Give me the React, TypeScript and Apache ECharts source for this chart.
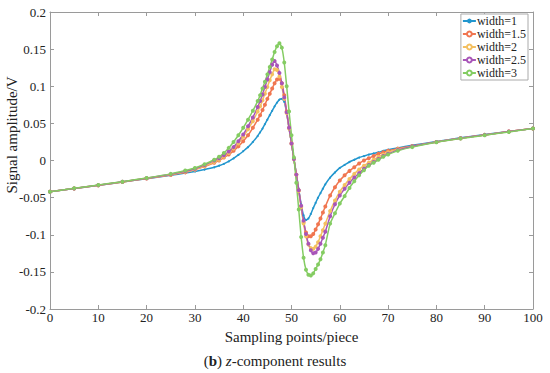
import React, { useEffect, useRef } from "react";
import * as echarts from "echarts";

const xs = [0, 5, 10, 15, 20, 25, 28, 30, 32, 34, 35, 36, 37, 38, 39, 40, 41, 42, 43, 43.5, 44, 44.5, 45, 45.5, 46, 46.5, 47, 47.5, 48, 48.5, 49, 49.5, 50, 50.5, 51, 51.5, 52, 52.5, 53, 53.5, 54, 54.5, 55, 55.5, 56, 56.5, 57, 58, 59, 60, 61, 62, 63, 64, 65, 66, 67, 68, 69, 70, 72, 75, 80, 85, 90, 95, 100];

const seriesNames = ["width=1", "width=1.5", "width=2", "width=2.5", "width=3"];

const w1 = [-0.042, -0.0378, -0.0334, -0.029, -0.0245, -0.02, -0.017, -0.0148, -0.0122, -0.0092, -0.007, -0.0045, -0.0012, 0.0028, 0.0075, 0.0125, 0.018, 0.025, 0.033, 0.038, 0.043, 0.049, 0.055, 0.061, 0.067, 0.073, 0.078, 0.082, 0.083, 0.079, 0.064, 0.043, 0.023, 0.002, -0.018, -0.039, -0.059, -0.074, -0.08, -0.078, -0.072, -0.064, -0.057, -0.05, -0.044, -0.038, -0.032, -0.023, -0.016, -0.01, -0.006, -0.002, 0.001, 0.004, 0.006, 0.008, 0.0095, 0.011, 0.013, 0.0145, 0.017, 0.0205, 0.0255, 0.0305, 0.035, 0.039, 0.043];

const w15 = [-0.042, -0.0378, -0.0335, -0.029, -0.0243, -0.0195, -0.016, -0.012, -0.008, -0.003, 0.0, 0.004, 0.008, 0.013, 0.019, 0.026, 0.034, 0.044, 0.055, 0.061, 0.068, 0.075, 0.083, 0.09, 0.097, 0.104, 0.109, 0.11, 0.104, 0.088, 0.066, 0.044, 0.023, 0.002, -0.019, -0.04, -0.062, -0.083, -0.097, -0.102, -0.102, -0.099, -0.093, -0.086, -0.078, -0.07, -0.062, -0.047, -0.036, -0.027, -0.02, -0.014, -0.009, -0.004, 0.0, 0.003, 0.006, 0.009, 0.011, 0.013, 0.016, 0.0195, 0.025, 0.030, 0.0345, 0.039, 0.043];

const w2 = [-0.042, -0.0377, -0.0333, -0.0288, -0.024, -0.019, -0.0152, -0.012, -0.0075, -0.002, 0.001, 0.005, 0.01, 0.016, 0.023, 0.032, 0.042, 0.053, 0.066, 0.073, 0.081, 0.09, 0.099, 0.108, 0.116, 0.123, 0.122, 0.113, 0.099, 0.083, 0.064, 0.043, 0.023, 0.002, -0.019, -0.041, -0.063, -0.085, -0.102, -0.113, -0.118, -0.119, -0.116, -0.11, -0.102, -0.094, -0.085, -0.068, -0.054, -0.042, -0.033, -0.025, -0.018, -0.012, -0.007, -0.003, 0.001, 0.005, 0.008, 0.011, 0.015, 0.019, 0.025, 0.030, 0.0345, 0.039, 0.043];

const w25 = [-0.042, -0.0377, -0.0332, -0.0287, -0.0238, -0.0185, -0.0145, -0.011, -0.006, 0.0, 0.003, 0.007, 0.012, 0.018, 0.026, 0.035, 0.046, 0.058, 0.072, 0.08, 0.089, 0.099, 0.109, 0.119, 0.129, 0.134, 0.128, 0.118, 0.104, 0.085, 0.065, 0.044, 0.023, 0.002, -0.019, -0.04, -0.061, -0.081, -0.099, -0.112, -0.121, -0.125, -0.124, -0.119, -0.112, -0.104, -0.096, -0.075, -0.059, -0.047, -0.038, -0.03, -0.023, -0.017, -0.011, -0.006, -0.002, 0.002, 0.006, 0.009, 0.014, 0.019, 0.025, 0.030, 0.0345, 0.039, 0.043];

const w3 = [-0.042, -0.0375, -0.033, -0.0285, -0.0235, -0.018, -0.0135, -0.01, -0.005, 0.001, 0.005, 0.01, 0.017, 0.025, 0.034, 0.044, 0.055, 0.067, 0.08, 0.088, 0.097, 0.106, 0.116, 0.126, 0.136, 0.146, 0.154, 0.158, 0.152, 0.132, 0.1, 0.066, 0.034, 0.004, -0.03, -0.066, -0.103, -0.131, -0.147, -0.154, -0.155, -0.152, -0.146, -0.14, -0.133, -0.124, -0.114, -0.085, -0.071, -0.058, -0.048, -0.037, -0.028, -0.02, -0.013, -0.007, -0.003, 0.001, 0.005, 0.008, 0.013, 0.018, 0.0245, 0.0295, 0.034, 0.0385, 0.043];

const seriesValues = [w1, w15, w2, w25, w3];
const seriesColors = ["#2196CE", "#F07650", "#F4C060", "#A855B8", "#84CC62"];
const seriesSymbols = ["circle", "emptyCircle", "emptyCircle", "emptyCircle", "emptyCircle"];

const xTicks = [0, 10, 20, 30, 40, 50, 60, 70, 80, 90, 100];
const yTicks = [-0.2, -0.15, -0.1, -0.05, 0, 0.05, 0.1, 0.15, 0.2];

const FONT = "'Liberation Serif', 'DejaVu Serif', serif";

export default function App() {
  const ref = useRef<HTMLDivElement>(null);
  useEffect(() => {
    if (!ref.current) return;
    const chart = echarts.init(ref.current, undefined, { renderer: "svg" });
    const axisColor = "#9a9a9a";
    const fmtY = (v: number) => {
      const r = Math.round(v * 100) / 100;
      if (r === 0) return "0";
      return String(r);
    };
    chart.setOption({
      animation: false,
      backgroundColor: "#fff",
      grid: { left: 50, right: 17, top: 12, bottom: 64, containLabel: false },
      legend: {
        orient: "vertical",
        right: 22,
        top: 14,
        itemWidth: 13,
        itemHeight: 6,
        itemGap: 1,
        padding: [1, 2, 1, 1],
        backgroundColor: "#fff",
        borderColor: "#aaa",
        borderWidth: 1,
        borderRadius: 0,
        textStyle: { fontFamily: FONT, fontSize: 12, lineHeight: 12, color: "#222", padding: [0, 0, 0, -4] },
        data: seriesNames,
      },
      xAxis: [
        {
          type: "value",
          min: xTicks[0],
          max: xTicks[xTicks.length - 1],
          interval: 10,
          name: "Sampling points/piece",
          nameLocation: "middle",
          nameGap: 20,
          nameTextStyle: { fontFamily: FONT, fontSize: 15, color: "#222" },
          axisLine: { show: true, onZero: false, lineStyle: { color: axisColor, width: 1 } },
          axisTick: { show: true, inside: true, length: 4, lineStyle: { color: axisColor } },
          axisLabel: { fontFamily: FONT, fontSize: 13, color: "#222", margin: 2 },
          splitLine: { show: false },
        },
        {
          type: "value",
          position: "top",
          min: xTicks[0],
          max: xTicks[xTicks.length - 1],
          interval: 10,
          axisLine: { show: true, onZero: false, lineStyle: { color: axisColor, width: 1 } },
          axisTick: { show: true, inside: true, length: 4, lineStyle: { color: axisColor } },
          axisLabel: { show: false },
          splitLine: { show: false },
        },
      ],
      yAxis: [
        {
          type: "value",
          min: yTicks[0],
          max: yTicks[yTicks.length - 1],
          interval: 0.05,
          axisLine: { show: true, onZero: false, lineStyle: { color: axisColor, width: 1 } },
          axisTick: { show: true, inside: true, length: 4, lineStyle: { color: axisColor } },
          axisLabel: { fontFamily: FONT, fontSize: 13, color: "#222", margin: 4, formatter: fmtY },
          splitLine: { show: false },
        },
        {
          type: "value",
          position: "right",
          min: yTicks[0],
          max: yTicks[yTicks.length - 1],
          interval: 0.05,
          axisLine: { show: true, onZero: false, lineStyle: { color: axisColor, width: 1 } },
          axisTick: { show: true, inside: true, length: 4, lineStyle: { color: axisColor } },
          axisLabel: { show: false },
          splitLine: { show: false },
        },
      ],
      series: seriesNames.map((name, k) => ({
        name,
        type: "line",
        xAxisIndex: 0,
        yAxisIndex: 0,
        data: xs.map((x, i) => [x, seriesValues[k][i]]),
        symbol: seriesSymbols[k],
        symbolSize: 2,
        smooth: 0.2,
        itemStyle: { color: seriesColors[k], borderWidth: 0.6 },
        lineStyle: { color: seriesColors[k], width: 1.5 },
      })),
      graphic: [
        {
          type: "text",
          x: 12,
          y: 135,
          rotation: Math.PI / 2,
          style: {
            text: "Signal amplitude/V",
            fontFamily: FONT,
            fontSize: 15,
            fill: "#222",
            align: "center",
            verticalAlign: "middle",
          },
        },
        {
          type: "text",
          left: "center",
          top: 353,
          style: {
            text: "({b|b}) {i|z}-component results",
            fontFamily: FONT,
            fontSize: 15,
            fill: "#222",
            rich: {
              b: { fontFamily: FONT, fontSize: 15, fontWeight: "bold", fill: "#222" },
              i: { fontFamily: FONT, fontSize: 15, fontStyle: "italic", fill: "#222" },
            },
          },
        },
      ],
    });
    return () => chart.dispose();
  }, []);
  return (
    <div
      ref={ref}
      style={{ position: "fixed", left: 0, top: 0, width: 550, height: 373, background: "#fff" }}
    />
  );
}
